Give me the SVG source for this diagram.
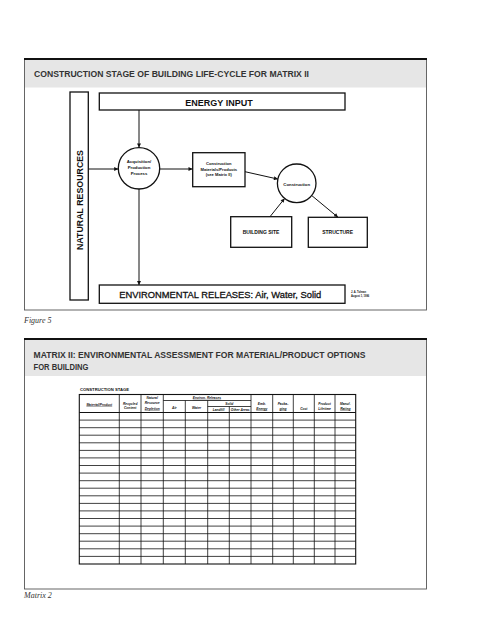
<svg xmlns="http://www.w3.org/2000/svg" width="495" height="640" viewBox="0 0 495 640">
<defs>
<style>
.hdr{font-family:"Liberation Sans","Open Sans",sans-serif;font-weight:bold;font-size:9px;fill:#333}
.cap{font-family:"Liberation Serif",serif;font-style:italic;font-size:8px;fill:#333}
.box{fill:#fff;stroke:#111;stroke-width:1.3}
.bx{font-family:"Liberation Sans",Arial,sans-serif;font-weight:bold;fill:#111;text-anchor:middle}
.con{stroke:#111;stroke-width:1;fill:none}
.tl{stroke:#111;stroke-width:0.8;fill:none}
.th{font-family:"Liberation Sans",Arial,sans-serif;font-weight:bold;font-style:italic;font-size:3.3px;fill:#111;text-anchor:middle}
</style>
<marker id="arr" viewBox="0 0 10 10" refX="10" refY="5" markerWidth="5" markerHeight="4" markerUnits="userSpaceOnUse" orient="auto">
<path d="M0,0 L10,5 L0,10 z" fill="#111"/>
</marker>
</defs>
<rect x="0" y="0" width="495" height="640" fill="#fff"/>

<!-- Panel 1 -->
<g id="panel1">
<rect x="24.5" y="59" width="402" height="251" fill="#fff" stroke="#555" stroke-width="0.9"/>
<rect x="25" y="60" width="401" height="27.5" fill="#e6e6e6"/>
<rect x="24" y="58" width="403" height="2" fill="#111"/>
<text class="hdr" x="34" y="77.3" textLength="275" lengthAdjust="spacingAndGlyphs">CONSTRUCTION STAGE OF BUILDING LIFE-CYCLE FOR MATRIX II</text>
</g>
<text class="cap" x="24" y="323">Figure 5</text>

<!-- Diagram nodes -->
<g id="node-natural-resources">
<rect class="box" x="70" y="92" width="18.3" height="208" stroke-width="1.5"/>
<text class="bx" font-size="9" transform="translate(82.5,200) rotate(-90)" x="0" y="0" textLength="100" lengthAdjust="spacingAndGlyphs">NATURAL RESOURCES</text>
</g>
<g id="node-energy-input">
<rect class="box" x="99.3" y="93" width="245.7" height="17"/>
<text class="bx" font-size="9" x="219" y="105.5">ENERGY INPUT</text>
</g>
<g id="node-acquisition">
<circle class="box" cx="139" cy="168.3" r="20.7"/>
<text class="bx" font-size="4.3" x="139" y="163.3">Acquisition/</text>
<text class="bx" font-size="4.3" x="139" y="169.2">Production</text>
<text class="bx" font-size="4.3" x="139" y="175">Process</text>
</g>
<g id="node-materials">
<rect class="box" x="192.7" y="152.7" width="52.3" height="34"/>
<text class="bx" font-size="4.1" x="218.8" y="165.3">Construction</text>
<text class="bx" font-size="4.1" x="218.8" y="170.5">Materials/Products</text>
<text class="bx" font-size="4.1" x="218.8" y="175.7">(see Matrix II)</text>
</g>
<g id="node-construction">
<circle class="box" cx="296.7" cy="183.3" r="19.3"/>
<text class="bx" font-size="4.3" x="296.7" y="185.6">Construction</text>
</g>
<g id="node-building-site">
<rect class="box" x="230.7" y="216.7" width="61" height="30.6"/>
<text class="bx" font-size="5" x="261" y="234">BUILDING SITE</text>
</g>
<g id="node-structure">
<rect class="box" x="308.3" y="217.3" width="59" height="30"/>
<text class="bx" font-size="5" x="337.6" y="234.3">STRUCTURE</text>
</g>
<g id="node-env-releases">
<rect class="box" x="99.3" y="285" width="245.7" height="18.3"/>
<text class="bx" font-size="9.5" style="font-weight:normal;text-anchor:start" stroke="#111" stroke-width="0.3" x="119.3" y="298.3" textLength="202" lengthAdjust="spacingAndGlyphs">ENVIRONMENTAL RELEASES:  Air, Water, Solid</text>
</g>
<g id="signature">
<text class="bx" font-size="2.6" style="text-anchor:start" x="351" y="293.3">J. A. Tolman</text>
<text class="bx" font-size="2.6" style="text-anchor:start" x="351" y="296.6">August 1, 1996</text>
</g>

<!-- Connectors -->
<g id="connectors">
<line class="con" x1="139" y1="110" x2="139" y2="147.5" marker-end="url(#arr)"/>
<line class="con" x1="88.3" y1="169" x2="118.2" y2="169" marker-end="url(#arr)"/>
<line class="con" x1="159.7" y1="169" x2="192.5" y2="169" marker-end="url(#arr)"/>
<line class="con" x1="245" y1="171.7" x2="277.9" y2="179.1" marker-end="url(#arr)"/>
<line class="con" x1="270" y1="216.7" x2="284.6" y2="198.5" marker-end="url(#arr)"/>
<line class="con" x1="311.7" y1="195.5" x2="338" y2="217.3" marker-end="url(#arr)"/>
<line class="con" x1="139" y1="189" x2="139" y2="285" marker-end="url(#arr)"/>
</g>

<!-- Panel 2 -->
<g id="panel2">
<rect x="24.5" y="339" width="402" height="250" fill="#fff" stroke="#555" stroke-width="0.9"/>
<rect x="25" y="340" width="401" height="36" fill="#e6e6e6"/>
<rect x="24" y="338" width="403" height="2" fill="#111"/>
<text class="hdr" x="33.5" y="358" textLength="332" lengthAdjust="spacingAndGlyphs">MATRIX II: ENVIRONMENTAL ASSESSMENT FOR MATERIAL/PRODUCT OPTIONS</text>
<text class="hdr" x="33.5" y="369.5" textLength="55" lengthAdjust="spacingAndGlyphs">FOR BUILDING</text>
</g>
<text class="cap" x="24" y="598">Matrix 2</text>

<!-- Matrix table -->
<g id="matrix-table">
<text class="bx" font-size="4.2" style="text-anchor:start" x="80" y="391.3" textLength="49" lengthAdjust="spacingAndGlyphs">CONSTRUCTION STAGE</text>
<rect x="79.3" y="394.5" width="276.4" height="169.5" fill="none" stroke="#111" stroke-width="1.1"/>
<line class="tl" x1="163.3" y1="400.5" x2="251" y2="400.5"/>
<line class="tl" x1="207.7" y1="406.5" x2="251" y2="406.5"/>
<line x1="79.3" y1="412.5" x2="355.7" y2="412.5" stroke="#111" stroke-width="1.1"/>
<path class="tl" d="M119.3,394.5V564 M141,394.5V564 M163.3,394.5V564 M185.3,400.5V564 M207.7,400.5V564 M229.3,406.5V564 M251,394.5V564 M272.7,394.5V564 M293.3,394.5V564 M314.3,394.5V564 M335,394.5V564"/>
<path class="tl" d="M79.3,420.1H355.7 M79.3,427.7H355.7 M79.3,435.2H355.7 M79.3,442.8H355.7 M79.3,450.4H355.7 M79.3,457.9H355.7 M79.3,465.5H355.7 M79.3,473.1H355.7 M79.3,480.7H355.7 M79.3,488.2H355.7 M79.3,495.8H355.7 M79.3,503.4H355.7 M79.3,510.9H355.7 M79.3,518.5H355.7 M79.3,526.1H355.7 M79.3,533.7H355.7 M79.3,541.2H355.7 M79.3,548.8H355.7 M79.3,556.4H355.7"/>
<text class="th" x="99.3" y="405.5" text-decoration="underline">Material/Product</text>
<text class="th" x="130.2" y="404.5">Recycled</text>
<text class="th" x="130.2" y="409">Content</text>
<text class="th" x="152.2" y="398.8">Natural</text>
<text class="th" x="152.2" y="404.3">Resource</text>
<text class="th" x="152.2" y="409.6" text-decoration="underline">Depletion</text>
<text class="th" x="207" y="398.8" text-decoration="underline">Environ. Releases</text>
<text class="th" x="174.3" y="408.8">Air</text>
<text class="th" x="196.5" y="408.8">Water</text>
<text class="th" x="229.3" y="404.9">Solid</text>
<text class="th" x="218.5" y="410.8" font-size="2.8">Landfill</text>
<text class="th" x="240.2" y="410.8" font-size="2.8">Other Areas</text>
<text class="th" x="261.8" y="404.8">Emb.</text>
<text class="th" x="261.8" y="409.6" text-decoration="underline">Energy</text>
<text class="th" x="283" y="404.8">Packa-</text>
<text class="th" x="283" y="409.6" text-decoration="underline">ging</text>
<text class="th" x="303.8" y="409.6">Cost</text>
<text class="th" x="324.6" y="404.8">Product</text>
<text class="th" x="324.6" y="409.6">Lifetime</text>
<text class="th" x="345.3" y="404.8">Manuf.</text>
<text class="th" x="345.3" y="409.6" text-decoration="underline">Rating</text>
</g>
</svg>
